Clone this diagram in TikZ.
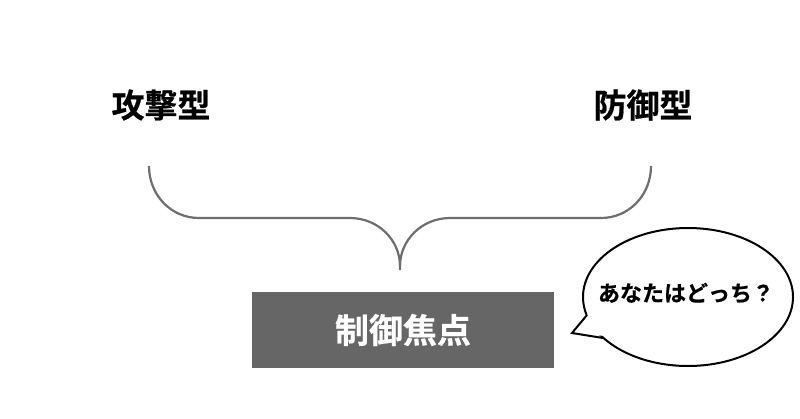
\documentclass[tikz,border=0pt]{standalone}
\usepackage{fontspec}
\usetikzlibrary{shapes.geometric}
\setmainfont{Noto Sans CJK JP}[BoldFont={Noto Sans CJK JP Bold}]
\newfontfamily\cjk{Noto Sans CJK JP}[BoldFont={Noto Sans CJK JP Bold}, BoldFeatures={FakeBold=0.6}]
\definecolor{bracegray}{HTML}{6E6E6E}
\definecolor{boxgray}{HTML}{666666}
\begin{document}
\begin{tikzpicture}[x=1pt,y=-1pt,
  lbl/.style={font=\cjk\bfseries\fontsize{33}{33}\selectfont, inner sep=0pt},
  bubbletext/.style={font=\cjk\bfseries\fontsize{22}{22}\selectfont, inner sep=0pt},
  boxstyle/.style={fill=boxgray, draw=none, minimum width=302pt, minimum height=76pt, inner sep=0pt,
     text=white, font=\cjk\bfseries\fontsize{34}{34}\selectfont},
  bracestyle/.style={draw=bracegray, line width=2.2pt},
  bubble/.style={draw=black, line width=2pt, fill=white}]
\useasboundingbox (0,0) rectangle (800,418);
\fill[white] (0,0) rectangle (800,418);
% labels
\node[lbl] (atk) at (161,105) {攻撃型};
\node[lbl] (def) at (643,105) {防御型};
% brace
\draw[bracestyle] (149,166) .. controls (149,195) and (171,218) .. (199,218)
  -- (350,218) .. controls (378,218) and (400,240) .. (400,266) -- (400,270);
\draw[bracestyle] (651,166) .. controls (651,195) and (629,218) .. (601,218)
  -- (450,218) .. controls (422,218) and (400,240) .. (400,266);
% box
\node[boxstyle] (focus) at (403,330) {制御焦点};
% speech bubble
\node[bubble, ellipse, minimum width=210pt, minimum height=138pt, inner sep=0pt] (bub) at (688,297) {};
\coordinate (t1) at (587,315);
\coordinate (tip) at (572,333);
\coordinate (t2) at (603,338);
\fill[white] (589,313) -- (tip) -- (605,336) -- cycle;
\draw[black, line width=2pt, line join=miter] (t1) -- (tip) -- (t2);
\node[bubbletext] (q) at (686,293) {あなたはどっち？};
\end{tikzpicture}
\end{document}
